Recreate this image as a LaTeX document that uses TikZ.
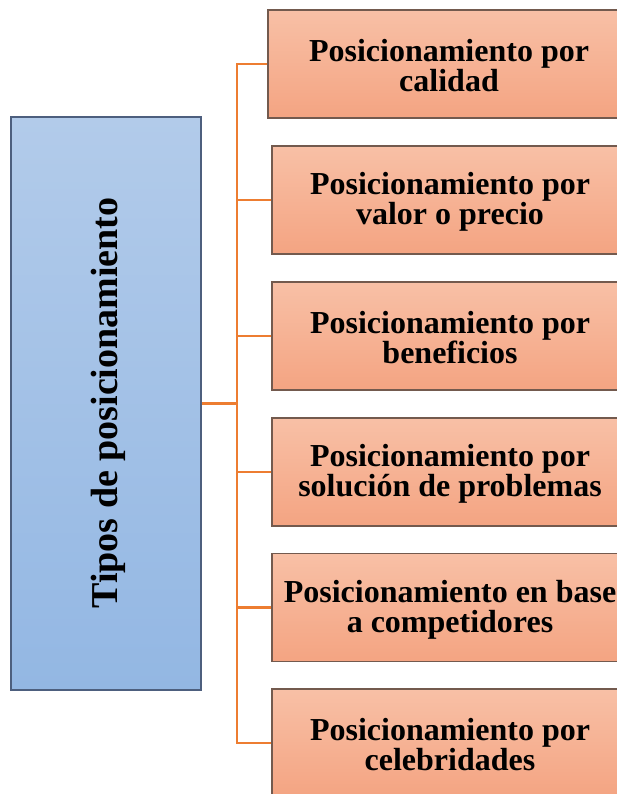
\documentclass[tikz,border=0pt]{standalone}
\usepackage{fontspec}
\setmainfont{Liberation Serif}
\definecolor{boxtop}{HTML}{F8C0A6}
\definecolor{boxbot}{HTML}{F4A482}
\definecolor{boxline}{HTML}{735A4E}
\definecolor{lefttop}{HTML}{B2CBEA}
\definecolor{leftbot}{HTML}{93B7E3}
\definecolor{leftline}{HTML}{4D5F7E}
\definecolor{conncol}{HTML}{ED7D31}
\tikzset{
  itembox/.style={draw=boxline, line width=1.2pt, top color=boxtop, bottom color=boxbot,
    minimum height=108pt, inner sep=0pt, align=center, text=black,
    font=\bfseries\fontsize{32}{30}\selectfont},
  itemtext/.style={inner sep=0pt, align=center, text=black, yshift=-2pt,
    font=\bfseries\fontsize{32}{30}\selectfont},
  mainbox/.style={draw=leftline, line width=1.2pt, top color=lefttop, bottom color=leftbot,
    minimum width=190pt, minimum height=573pt, inner sep=0pt},
  conn/.style={draw=conncol, line width=2.8pt},
}
\begin{document}
\begin{tikzpicture}[x=1pt,y=-1pt]
\useasboundingbox (0,0) rectangle (617,794);
\begin{scope}
\clip (0,0) rectangle (617,794);
\node[mainbox] (L) at (106,403.5) {};
\node[rotate=90, font=\bfseries\fontsize{38}{40}\selectfont] (Ltxt) at (108,403) {Tipos de posicionamiento};
\node[itembox, minimum width=362pt] (b1) at (449,64) {};
\node[itembox, minimum width=356pt] (b2) at (450,200) {};
\node[itembox, minimum width=356pt] (b3) at (450,336) {};
\node[itembox, minimum width=356pt] (b4) at (450,472) {};
\node[itembox, minimum width=356pt] (b5) at (450,607.5) {};
\node[itembox, minimum width=356pt] (b6) at (450,743) {};
\node[itemtext] (t1) at (b1) {Posicionamiento por\\calidad};
\node[itemtext] (t2) at (b2) {Posicionamiento por\\valor o precio};
\node[itemtext] (t3) at (b3) {Posicionamiento por\\beneficios};
\node[itemtext] (t4) at (b4) {Posicionamiento por\\solución de problemas};
\node[itemtext] (t5) at (b5) {Posicionamiento en base\\a competidores};
\node[itemtext] (t6) at (b6) {Posicionamiento por\\celebridades};
\coordinate (t) at (237,403.5);
\draw[conn] (L.east) -- (t);
\draw[conn, line cap=rect] (b1.west -| t) -- (b6.west -| t);
\foreach \b in {b1,b2,b3,b4,b5,b6}{
  \draw[conn] (\b.west -| t) -- (\b.west);
}
\end{scope}
\end{tikzpicture}
\end{document}
